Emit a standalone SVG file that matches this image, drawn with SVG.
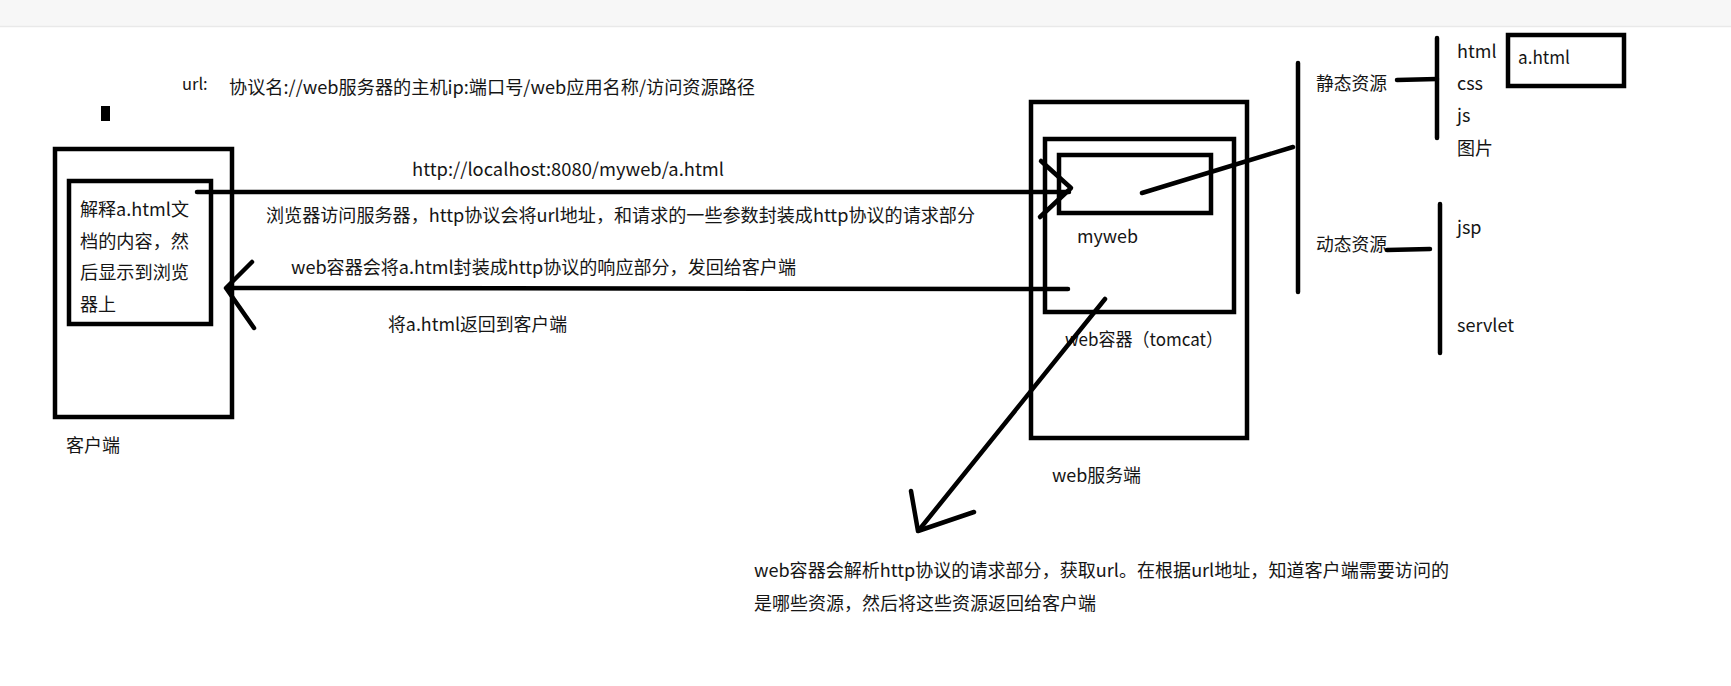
<svg xmlns="http://www.w3.org/2000/svg" width="1731" height="686" viewBox="0 0 1731 686">
  <style>
    .t { font-family: "Noto Sans CJK SC", "Noto Sans", sans-serif; font-size: 18px; fill: #151515; }
    .box { fill: none; stroke: #000; stroke-width: 4.5; }
    .ln { fill: none; stroke: #000; stroke-width: 4.5; stroke-linecap: round; stroke-linejoin: round; }
  </style>

  <!-- page background and top toolbar strip -->
  <rect x="0" y="0" width="1731" height="686" fill="#ffffff"/>
  <rect x="0" y="0" width="1731" height="26" fill="#f7f7f7"/>
  <line x1="0" y1="26.5" x2="1731" y2="26.5" stroke="#e9e9e9" stroke-width="1.5"/>

  <!-- url format note -->
  <g id="url-format">
    <text class="t" x="182" y="90" style="font-size:16.5px">url:</text>
    <text class="t" x="229" y="94" textLength="526" lengthAdjust="spacingAndGlyphs">协议名://web服务器的主机ip:端口号/web应用名称/访问资源路径</text>
    <rect x="101" y="106" width="9" height="15" fill="#000"/>
  </g>

  <!-- client -->
  <g id="client">
    <rect class="box" x="55" y="149" width="177" height="268"/>
    <rect class="box" x="69" y="181" width="142" height="143"/>
    <text class="t" x="80" y="216" textLength="109" lengthAdjust="spacingAndGlyphs">解释a.html文</text>
    <text class="t" x="80" y="248" textLength="109" lengthAdjust="spacingAndGlyphs">档的内容，然</text>
    <text class="t" x="80" y="279" textLength="109" lengthAdjust="spacingAndGlyphs">后显示到浏览</text>
    <text class="t" x="80" y="311">器上</text>
    <text class="t" x="66" y="452" textLength="54" lengthAdjust="spacingAndGlyphs">客户端</text>
  </g>

  <!-- web server -->
  <g id="web-server">
    <rect class="box" x="1031" y="102" width="216" height="336"/>
    <text class="t" x="1052" y="482" textLength="89" lengthAdjust="spacingAndGlyphs">web服务端</text>
  </g>

  <g id="web-container">
    <rect class="box" x="1045" y="139" width="189" height="173"/>
    <text class="t" x="1065" y="346" textLength="158" lengthAdjust="spacingAndGlyphs">web容器（tomcat）</text>
  </g>

  <g id="myweb">
    <rect class="box" x="1059" y="155" width="152" height="58"/>
    <text class="t" x="1077" y="243" textLength="61" lengthAdjust="spacingAndGlyphs">myweb</text>
  </g>

  <!-- resource categories -->
  <g id="static-resources">
    <text class="t" x="1316" y="90" textLength="71" lengthAdjust="spacingAndGlyphs">静态资源</text>
    <text class="t" x="1457" y="58">html</text>
    <text class="t" x="1457" y="90">css</text>
    <text class="t" x="1457" y="122">js</text>
    <text class="t" x="1457" y="155">图片</text>
  </g>

  <g id="a-html">
    <rect class="box" x="1508" y="35" width="116" height="51"/>
    <text class="t" x="1518" y="64" textLength="52" lengthAdjust="spacingAndGlyphs">a.html</text>
  </g>

  <g id="dynamic-resources">
    <text class="t" x="1316" y="251" textLength="71" lengthAdjust="spacingAndGlyphs">动态资源</text>
    <text class="t" x="1457" y="234">jsp</text>
    <text class="t" x="1457" y="332">servlet</text>
  </g>

  <!-- labels along the request / response arrows -->
  <g id="labels">
    <text class="t" x="412" y="176" textLength="312" lengthAdjust="spacingAndGlyphs">http://localhost:8080/myweb/a.html</text>
    <text class="t" x="266" y="222" textLength="709" lengthAdjust="spacingAndGlyphs">浏览器访问服务器，http协议会将url地址，和请求的一些参数封装成http协议的请求部分</text>
    <text class="t" x="291" y="274" textLength="505" lengthAdjust="spacingAndGlyphs">web容器会将a.html封装成http协议的响应部分，发回给客户端</text>
    <text class="t" x="388" y="331" textLength="179" lengthAdjust="spacingAndGlyphs">将a.html返回到客户端</text>
    <text class="t" x="754" y="577" textLength="695" lengthAdjust="spacingAndGlyphs">web容器会解析http协议的请求部分，获取url。在根据url地址，知道客户端需要访问的</text>
    <text class="t" x="754" y="610" textLength="342" lengthAdjust="spacingAndGlyphs">是哪些资源，然后将这些资源返回给客户端</text>
  </g>

  <!-- connectors -->
  <g id="connectors">
    <!-- request: client to myweb -->
    <line class="ln" x1="197" y1="192" x2="1069" y2="192"/>
    <polyline class="ln" points="1041,161 1071,188 1040,217"/>
    <!-- response: container back to client -->
    <line class="ln" x1="1068" y1="289" x2="227" y2="288"/>
    <polyline class="ln" points="252,262 226,288 254,328"/>
    <!-- myweb to resource tree -->
    <line class="ln" x1="1142" y1="193" x2="1293" y2="147"/>
    <line class="ln" x1="1298" y1="63" x2="1298" y2="292"/>
    <!-- static branch -->
    <line class="ln" x1="1397" y1="80" x2="1437" y2="79"/>
    <line class="ln" x1="1437" y1="38" x2="1437" y2="138"/>
    <!-- dynamic branch -->
    <line class="ln" x1="1387" y1="250" x2="1430" y2="249"/>
    <line class="ln" x1="1440" y1="204" x2="1440" y2="353"/>
    <!-- container parses request: arrow down to note -->
    <line class="ln" x1="1105" y1="299" x2="919" y2="530"/>
    <polyline class="ln" points="911,491 918,531 974,512"/>
  </g>
</svg>
